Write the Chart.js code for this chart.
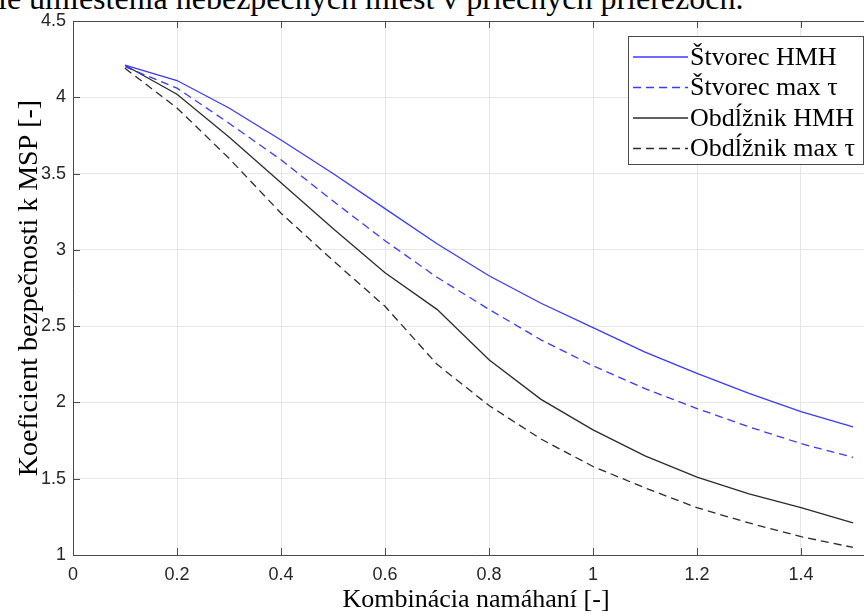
<!DOCTYPE html>
<html>
<head>
<meta charset="utf-8">
<script src="https://cdn.jsdelivr.net/npm/chart.js@4"></script>
<style>
    html, body { margin: 0; padding: 0; background: #fff; overflow: hidden; width: 864px; height: 614px; }
    #wrap { position: relative; width: 864px; height: 614px; overflow: hidden; }
    #chart { position: absolute; left: 0; top: 0; }
    #caption {
        position: absolute; left: -2px; top: -18px; white-space: nowrap;
        font-family: 'Liberation Serif', serif; font-size: 32px; line-height: 1; color: #000;
    }
</style>
</head>
<body>
<div id="wrap">
    <div id="caption">ie umiestenia nebezpečných miest v priečnych prierezoch.</div>
    <canvas id="chart" width="890" height="614"></canvas>
</div>
<script>
// data
const xValues = [0.1, 0.2, 0.3, 0.4, 0.5, 0.6, 0.7, 0.8, 0.9, 1.0, 1.1, 1.2, 1.3, 1.4, 1.5];
const stvorecHMH = [4.21, 4.11, 3.93, 3.72, 3.50, 3.27, 3.04, 2.83, 2.65, 2.49, 2.33, 2.19, 2.06, 1.94, 1.84];
const stvorecMaxTau = [4.20, 4.06, 3.83, 3.59, 3.32, 3.06, 2.82, 2.61, 2.41, 2.24, 2.09, 1.96, 1.84, 1.73, 1.64];
const obdlznikHMH = [4.21, 4.02, 3.74, 3.44, 3.14, 2.85, 2.61, 2.28, 2.02, 1.82, 1.65, 1.51, 1.40, 1.31, 1.21];
const obdlznikMaxTau = [4.19, 3.93, 3.60, 3.24, 2.93, 2.63, 2.25, 1.98, 1.76, 1.58, 1.44, 1.31, 1.21, 1.12, 1.05];
const seriesLabels = ['Štvorec HMH', 'Štvorec max τ', 'Obdĺžnik HMH', 'Obdĺžnik max τ'];
const xTicks = [0, 0.2, 0.4, 0.6, 0.8, 1, 1.2, 1.4];
const yTicks = [1, 1.5, 2, 2.5, 3, 3.5, 4, 4.5];

const BLUE = '#3a3aff';
const BLACK = '#2b2b2b';
const AXIS = '#4a4a4a';

function toPoints(ys) {
    return xValues.map((x, i) => ({ x: x, y: ys[i] }));
}

// box around the axes + inward tick marks (MATLAB style)
const axesBox = {
    id: 'axesBox',
    afterDraw(chart) {
        const { ctx, chartArea: a, scales } = chart;
        ctx.save();
        ctx.strokeStyle = AXIS;
        ctx.lineWidth = 1;
        ctx.beginPath();
        ctx.moveTo(a.left, a.top + 0.5);
        ctx.lineTo(a.right, a.top + 0.5);
        scales.x.ticks.forEach(t => {
            const px = Math.round(scales.x.getPixelForValue(t.value)) + 0.5;
            ctx.moveTo(px, a.bottom);
            ctx.lineTo(px, a.bottom - 7);
            ctx.moveTo(px, a.top);
            ctx.lineTo(px, a.top + 7);
        });
        scales.y.ticks.forEach(t => {
            const py = Math.round(scales.y.getPixelForValue(t.value)) + 0.5;
            ctx.moveTo(a.left, py);
            ctx.lineTo(a.left + 7, py);
        });
        ctx.stroke();
        ctx.restore();
    }
};

// legend box inside the plot, top right
const boxLegend = {
    id: 'boxLegend',
    afterDraw(chart) {
        const { ctx, chartArea: a } = chart;
        const w = 235, h = 128;
        const x0 = a.right - 16 - w;
        const y0 = a.top + 15;
        ctx.save();
        ctx.fillStyle = '#fff';
        ctx.fillRect(x0, y0, w, h);
        ctx.strokeStyle = AXIS;
        ctx.lineWidth = 1;
        ctx.strokeRect(x0 + 0.5, y0 + 0.5, w, h);
        ctx.font = '26px "Liberation Serif"';
        ctx.textBaseline = 'middle';
        chart.data.datasets.forEach((ds, i) => {
            const cy = y0 + 21 + i * 30.5;
            ctx.strokeStyle = ds.borderColor;
            ctx.lineWidth = ds.borderWidth;
            ctx.setLineDash(ds.borderDash || []);
            ctx.beginPath();
            ctx.moveTo(x0 + 5, cy);
            ctx.lineTo(x0 + 60, cy);
            ctx.stroke();
            ctx.setLineDash([]);
            ctx.fillStyle = '#000';
            ctx.fillText(ds.label, x0 + 62, cy + 1);
        });
        ctx.restore();
    }
};

function makeDataset(label, ys, color, dashed) {
    return {
        label: label,
        data: toPoints(ys),
        borderColor: color,
        backgroundColor: color,
        borderWidth: 1.3,
        borderDash: dashed ? [8, 5] : [],
        pointRadius: 0,
        tension: 0,
        fill: false
    };
}

new Chart(document.getElementById('chart').getContext('2d'), {
    type: 'line',
    data: {
        datasets: [
            makeDataset(seriesLabels[0], stvorecHMH, BLUE, false),
            makeDataset(seriesLabels[1], stvorecMaxTau, BLUE, true),
            makeDataset(seriesLabels[2], obdlznikHMH, BLACK, false),
            makeDataset(seriesLabels[3], obdlznikMaxTau, BLACK, true)
        ]
    },
    options: {
        responsive: false,
        animation: false,
        layout: { padding: { top: 21, right: 11, left: 0, bottom: 0 } },
        plugins: {
            legend: { display: false },
            tooltip: { enabled: false }
        },
        scales: {
            x: {
                type: 'linear',
                min: 0,
                max: 1.55,
                afterBuildTicks: (scale) => {
                    scale.ticks = xTicks.map(v => ({ value: v }));
                },
                afterFit: (scale) => { scale.height = 59; },
                grid: { color: '#e6e6e6', lineWidth: 1, drawTicks: false },
                border: { display: true, color: AXIS, width: 1 },
                ticks: {
                    padding: 9,
                    color: '#262626',
                    font: { family: 'Liberation Sans', size: 18 },
                    callback: (v) => String(Math.round(v * 10) / 10)
                },
                title: {
                    display: true,
                    text: 'Kombinácia namáhaní [-]',
                    color: '#000',
                    padding: { top: 0, bottom: -2 },
                    font: { family: 'Liberation Serif', size: 26 }
                }
            },
            y: {
                type: 'linear',
                min: 1,
                max: 4.5,
                afterBuildTicks: (scale) => {
                    scale.ticks = yTicks.map(v => ({ value: v }));
                },
                afterFit: (scale) => { scale.width = 73; },
                grid: { color: '#e6e6e6', lineWidth: 1, drawTicks: false },
                border: { display: true, color: AXIS, width: 1 },
                ticks: {
                    padding: 7,
                    color: '#262626',
                    font: { family: 'Liberation Sans', size: 18 },
                    callback: (v) => String(v)
                },
                title: {
                    display: true,
                    text: 'Koeficient bezpečnosti k MSP [-]',
                    color: '#000',
                    padding: { top: 13, bottom: 0 },
                    font: { family: 'Liberation Serif', size: 28 }
                }
            }
        }
    },
    plugins: [axesBox, boxLegend]
});
</script>
</body>
</html>
